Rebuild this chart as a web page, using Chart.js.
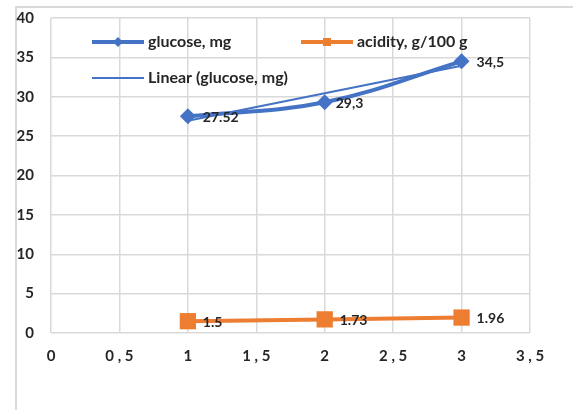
<!DOCTYPE html>
<html>
<head>
<meta charset="utf-8">
<script src="https://cdn.jsdelivr.net/npm/chart.js@4/dist/chart.umd.min.js"></script>
<style>
  html, body { margin: 0; padding: 0; background: #fff; }
  #wrap { position: relative; width: 573px; height: 410px; }
  #frame { position: absolute; left: 15px; top: 6px; right: 0; bottom: 0; border-left: 2px solid #d9d9d9; border-top: 2px solid #d9d9d9; }
  canvas { position: absolute; left: 0; top: 0; }
</style>
</head>
<body>
<div id="wrap">
  <div id="frame"></div>
  <canvas id="myChart" width="573" height="410"></canvas>
</div>
<script>
// Data
let xValues = [1, 2, 3];
let glucose = [27.52, 29.3, 34.5];
let acidity = [1.5, 1.73, 1.96];
let glucoseLabels = ["27.52", "29,3", "34,5"];
let acidityLabels = ["1.5", "1.73", "1.96"];
let trendX = [1, 3];
let trendY = [26.95, 33.93];

const blue = '#4472C4';
const orange = '#ED7D31';
const textColor = '#262626';
const fontFamily = 'Lato, "Open Sans", sans-serif';

function toPoints(xs, ys) {
    return xs.map((x, i) => ({ x: x, y: ys[i] }));
}

// Draw value labels next to each point
const valueLabels = {
    id: 'valueLabels',
    afterDatasetsDraw(chart) {
        const ctx = chart.ctx;
        ctx.save();
        ctx.font = 'bold 14px ' + fontFamily;
        ctx.fillStyle = textColor;
        ctx.textBaseline = 'middle';
        ctx.textAlign = 'left';
        [[0, glucoseLabels], [1, acidityLabels]].forEach(([idx, labels]) => {
            chart.getDatasetMeta(idx).data.forEach((pt, i) => {
                let dx = (idx === 0 && i === 1) ? 11 : 15;
                ctx.fillText(labels[i], pt.x + dx, pt.y + 1);
            });
        });
        ctx.restore();
    }
};

// Legend drawn inside the plot area
const innerLegend = {
    id: 'innerLegend',
    afterDraw(chart) {
        const ctx = chart.ctx;
        const a = chart.chartArea;
        const items = [
            { x: a.left + 41, y: 42, color: blue, width: 4, marker: 'diamond', text: 'glucose, mg' },
            { x: a.left + 250, y: 42, color: orange, width: 4, marker: 'square', text: 'acidity, g/100 g' },
            { x: a.left + 41, y: 78, color: blue, width: 2, marker: null, text: 'Linear (glucose, mg)' }
        ];
        ctx.save();
        items.forEach(it => {
            ctx.strokeStyle = it.color;
            ctx.lineWidth = it.width;
            ctx.beginPath();
            ctx.moveTo(it.x, it.y);
            ctx.lineTo(it.x + 52, it.y);
            ctx.stroke();
            let cx = it.x + 26;
            ctx.fillStyle = it.color;
            if (it.marker === 'diamond') {
                ctx.beginPath();
                ctx.moveTo(cx, it.y - 5);
                ctx.lineTo(cx + 5, it.y);
                ctx.lineTo(cx, it.y + 5);
                ctx.lineTo(cx - 5, it.y);
                ctx.closePath();
                ctx.fill();
            } else if (it.marker === 'square') {
                ctx.fillRect(cx - 4, it.y - 4, 8, 8);
            }
            ctx.font = 'bold 16px ' + fontFamily;
            ctx.fillStyle = textColor;
            ctx.textBaseline = 'middle';
            ctx.textAlign = 'left';
            ctx.fillText(it.text, it.x + 56, it.y);
        });
        ctx.restore();
    }
};

const ctx = document.getElementById('myChart').getContext('2d');
const chart = new Chart(ctx, {
    type: 'scatter',
    data: {
        datasets: [{
            label: 'glucose, mg',
            data: toPoints(xValues, glucose),
            showLine: true,
            borderColor: blue,
            backgroundColor: blue,
            borderWidth: 4,
            tension: 0.4,
            pointStyle: 'rectRot',
            pointRadius: 8,
            pointBorderWidth: 0
        }, {
            label: 'acidity, g/100 g',
            data: toPoints(xValues, acidity),
            showLine: true,
            borderColor: orange,
            backgroundColor: orange,
            borderWidth: 4,
            pointStyle: 'rect',
            pointRadius: 11.5,
            pointBorderWidth: 0
        }, {
            label: 'Linear (glucose, mg)',
            data: toPoints(trendX, trendY),
            showLine: true,
            borderColor: blue,
            borderWidth: 2,
            pointRadius: 0
        }]
    },
    options: {
        responsive: false,
        animation: false,
        layout: { padding: { top: 18, right: 43, left: 0, bottom: 0 } },
        plugins: {
            legend: { display: false },
            tooltip: { enabled: false }
        },
        scales: {
            x: {
                type: 'linear',
                min: 0,
                max: 3.5,
                afterFit: s => { s.height = 77; s.paddingLeft = 0; s.paddingRight = 0; },
                grid: { color: '#d9d9d9', lineWidth: 1.5, drawTicks: false },
                border: { display: false },
                ticks: {
                    stepSize: 0.5,
                    padding: 14,
                    color: textColor,
                    font: { family: fontFamily, size: 15, weight: 'bold' },
                    callback: v => Number.isInteger(v) ? String(v) : String(v).replace('.', ' , ')
                }
            },
            y: {
                min: 0,
                max: 40,
                afterFit: s => { s.width = 51; s.paddingTop = 0; s.paddingBottom = 0; },
                grid: { color: '#d9d9d9', lineWidth: 1.5, drawTicks: false },
                border: { display: false },
                ticks: {
                    stepSize: 5,
                    padding: 17,
                    color: textColor,
                    font: { family: fontFamily, size: 15, weight: 'bold' }
                }
            }
        }
    },
    plugins: [valueLabels, innerLegend]
});
</script>
</body>
</html>
